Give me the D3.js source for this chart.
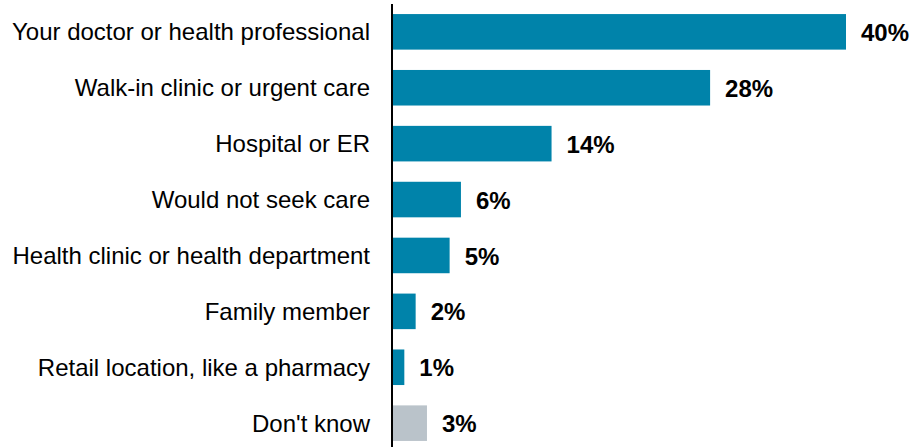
<!DOCTYPE html>
<html>
<head>
<meta charset="utf-8">
<script src="https://cdn.jsdelivr.net/npm/d3@7"></script>
<style>
  html, body { margin: 0; padding: 0; background: #fff; }
  svg { display: block; font-family: "Liberation Sans", Arial, sans-serif; }
</style>
</head>
<body>
<div id="chart"></div>
<script>
const categories = [
  'Your doctor or health professional',
  'Walk-in clinic or urgent care',
  'Hospital or ER',
  'Would not seek care',
  'Health clinic or health department',
  'Family member',
  'Retail location, like a pharmacy',
  "Don't know"
];
const values = [40, 28, 14, 6, 5, 2, 1, 3];
const barColors = ['#0083AA', '#0083AA', '#0083AA', '#0083AA', '#0083AA', '#0083AA', '#0083AA', '#BAC3CA'];

const width = 914;
const height = 447;
const left = 393;

const svg = d3.select('#chart')
  .append('svg')
  .attr('width', width)
  .attr('height', height);

const x = d3.scaleLinear()
  .domain([0, 40])
  .range([left, 846]);

const y = d3.scaleBand()
  .domain(categories)
  .range([4, 451])
  .paddingInner(0.364)
  .paddingOuter(0.18);

const rows = categories.map((c, i) => ({ cat: c, val: values[i], color: barColors[i] }));

svg.append('g')
  .selectAll('rect')
  .data(rows)
  .enter()
  .append('rect')
  .attr('x', x(0))
  .attr('y', (d) => y(d.cat))
  .attr('width', (d) => x(d.val) - x(0))
  .attr('height', y.bandwidth())
  .style('fill', (d) => d.color);

svg.append('g')
  .selectAll('text')
  .data(rows)
  .enter()
  .append('text')
  .attr('x', (d) => x(d.val) + 15)
  .attr('y', (d) => y(d.cat) + y.bandwidth() / 2)
  .attr('dy', '0.38em')
  .style('font-size', '24px')
  .style('font-weight', 'bold')
  .style('fill', '#000')
  .text((d) => d.val + '%');

svg.append('g')
  .selectAll('text')
  .data(rows)
  .enter()
  .append('text')
  .attr('x', 370)
  .attr('y', (d) => y(d.cat) + y.bandwidth() / 2)
  .attr('dy', '0.35em')
  .attr('text-anchor', 'end')
  .style('font-size', '24px')
  .style('fill', '#000')
  .text((d) => d.cat);

svg.append('line')
  .attr('x1', 392)
  .attr('x2', 392)
  .attr('y1', 4)
  .attr('y2', height)
  .style('stroke', '#000')
  .style('stroke-width', 2);
</script>
</body>
</html>
